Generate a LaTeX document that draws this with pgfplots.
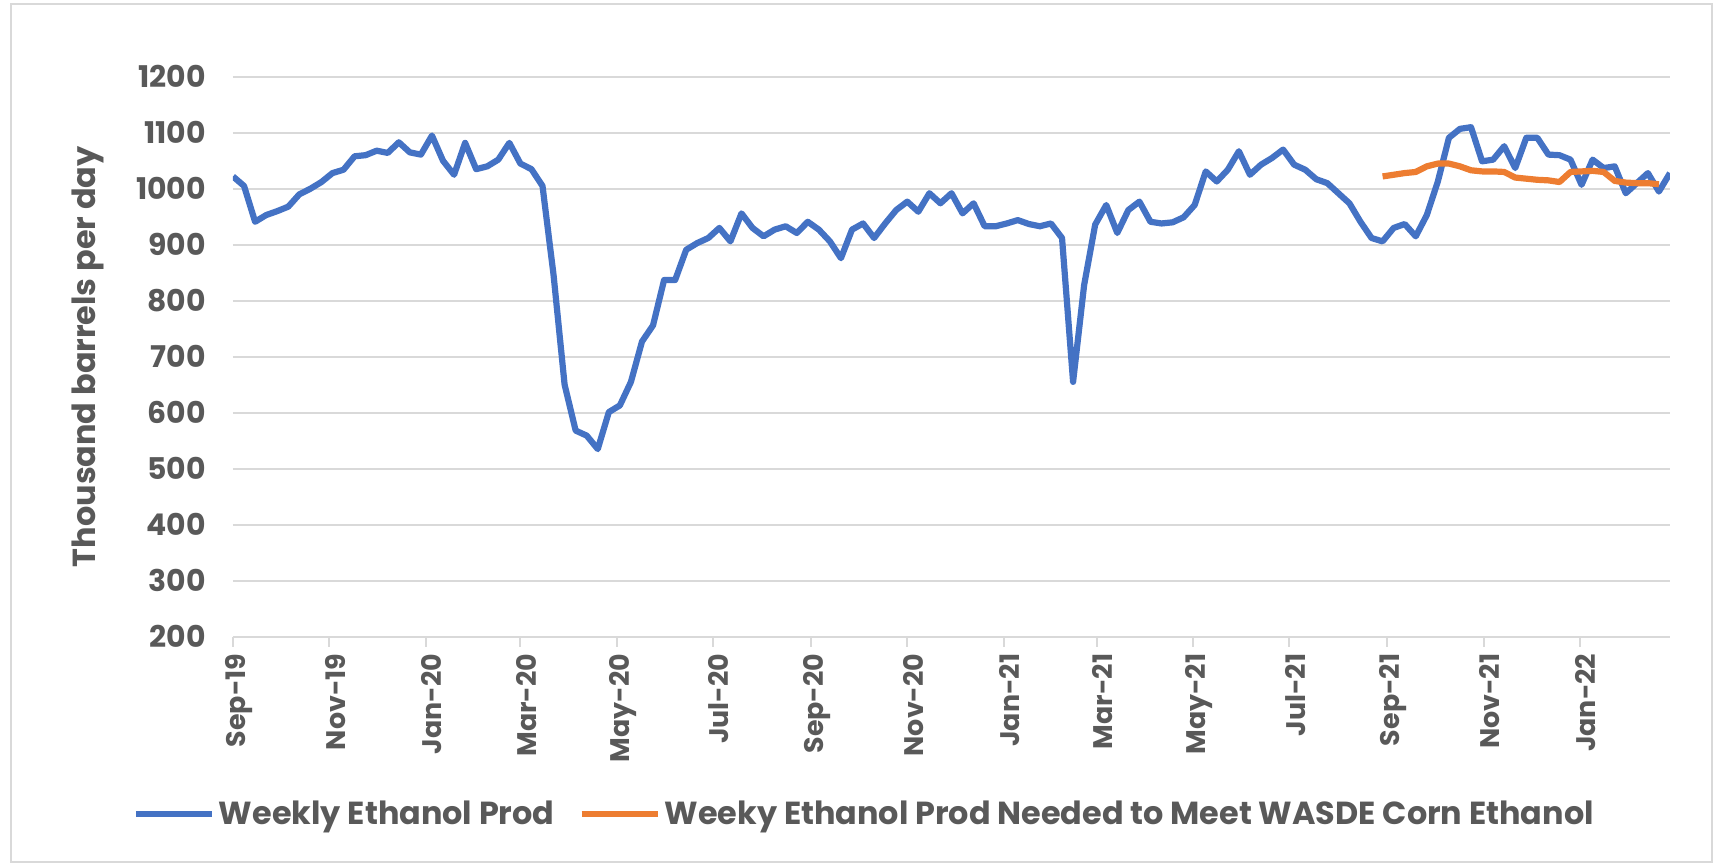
\documentclass[border=0pt]{standalone}
\usepackage{fontspec}
\setmainfont{Poppins}
\usepackage{pgfplots}
\pgfplotsset{compat=1.18}
\usepackage{pgfplotstable}
\definecolor{bl}{HTML}{4472C4}
\definecolor{orng}{HTML}{ED7D31}
\definecolor{txt}{HTML}{595959}
\definecolor{gridc}{HTML}{D9D9D9}

% weekly series, one value per week starting Sep-19
\pgfplotstableread{
v
1022
1005
941
953
960
968
990
1000
1012
1028
1034
1058
1060
1068
1064
1083
1065
1061
1095
1050
1025
1082
1035
1040
1052
1082
1045
1035
1005
846
650
568
559
535
601
613
655
727
756
837
837
891
903
912
930
906
956
930
915
927
933
921
941
927
906
876
927
938
912
938
962
977
959
992
974
992
956
974
933
933
938
944
937
933
938
912
655
828
936
971
921
962
977
941
938
940
949
971
1031
1013
1034
1067
1025
1043
1055
1070
1043
1034
1017
1010
992
974
941
912
906
930
937
915
953
1013
1091
1107
1110
1049
1052
1076
1037
1091
1091
1061
1060
1052
1007
1052
1037
1040
992
1010
1028
995
1028
}\bluedata

\pgfplotstableread{
w v
104 1022
105 1025
106 1028
107 1030
108 1040
109 1045
110 1045
111 1040
112 1033
113 1031
114 1031
115 1030
116 1020
117 1018
118 1016
119 1015
120 1012
121 1030
122 1031
123 1032
124 1030
125 1014
126 1011
127 1010
128 1010
129 1008
}\orangedata

\begin{document}
\begin{tikzpicture}
\useasboundingbox (-116.5bp,-114.2bp) rectangle (744bp,318.3bp);
\draw[gridc, line width=1bp] (-111bp,-112.7bp) rectangle (739.5bp,316.3bp);
\begin{axis}[
  at={(0,0)}, anchor=south west,
  width=718.5bp, height=279.9bp, scale only axis,
  xmin=0, xmax=910, ymin=200, ymax=1200,
  ytick={200,300,...,1200},
  xtick={0,61,122,182,243,304,366,427,488,547,608,669,731,792,853},
  xticklabels={Sep-19,Nov-19,Jan-20,Mar-20,May-20,Jul-20,Sep-20,Nov-20,Jan-21,Mar-21,May-21,Jul-21,Sep-21,Nov-21,Jan-22},
  axis line style={draw=none},
  ymajorgrids, grid style={gridc, line width=1bp},
  tick pos=left, tick align=outside,
  ytick style={draw=none},
  xtick style={gridc, line width=1bp},
  major tick length=5bp,
  /pgf/number format/assume math mode=true,
  /pgf/number format/1000 sep={},
  yticklabel style={font=\bfseries\fontsize{15}{17}\selectfont, text=txt, xshift=-5bp},
  xticklabel style={font=\bfseries\fontsize{13.5}{16}\selectfont, text=txt, rotate=90, anchor=east, yshift=-3bp},
  ylabel={Thousand barrels per day},
  every axis y label/.style={at={(rel axis cs:0,0.5)}, xshift=-72.5bp, rotate=90, anchor=center, font=\bfseries\fontsize{16}{18}\selectfont, text=txt},
  legend style={at={(rel axis cs:0.44,-0.317)}, anchor=center, draw=none, fill=none,
    legend columns=2, font=\bfseries\fontsize{16}{18}\selectfont, text=txt,
    /tikz/every even column/.style={column sep=10bp}},
  legend image code/.code={\draw[#1] (0bp,0bp) -- (38bp,0bp);},
]
\addplot[bl, line width=3.1bp, line join=round] table[x expr=\coordindex*7, y=v] {\bluedata};
\addlegendentry{Weekly Ethanol Prod}
\addplot[orng, line width=3.1bp, line join=round] table[x expr=\thisrow{w}*7, y=v] {\orangedata};
\addlegendentry{Weeky Ethanol Prod Needed to Meet WASDE Corn Ethanol}
\end{axis}
\end{tikzpicture}
\end{document}
